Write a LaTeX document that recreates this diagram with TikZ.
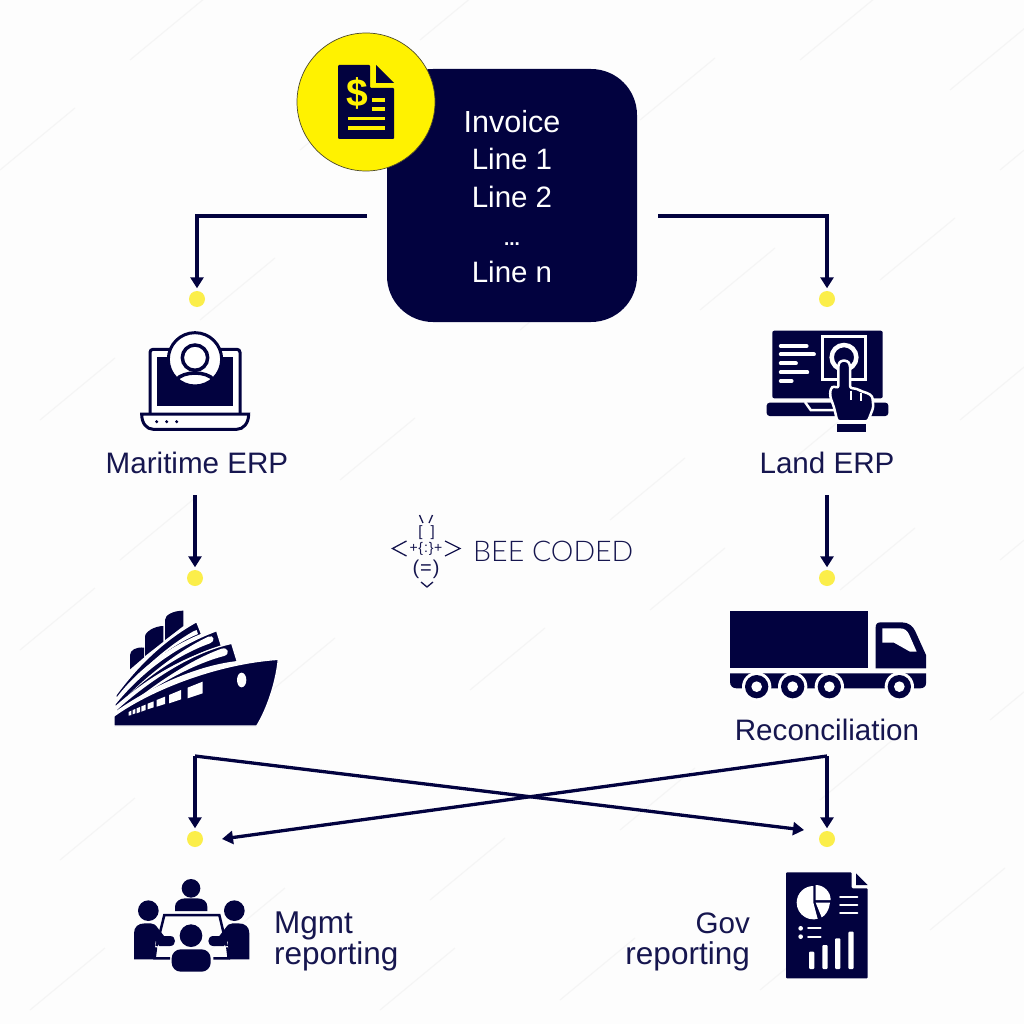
\documentclass[tikz,border=0pt]{standalone}
\usepackage{fontspec}
\setmainfont{Liberation Sans}
\newfontfamily\lightf{Lato Light}
\usetikzlibrary{arrows.meta}
\definecolor{navy}{HTML}{02023F}
\definecolor{labelc}{HTML}{16164F}
\definecolor{sun}{HTML}{FFF200}
\definecolor{dotc}{HTML}{FBEE4A}
\definecolor{bg}{HTML}{FDFDFD}
\definecolor{streak}{HTML}{F5F5F5}
\tikzset{
  px/.style 2 args={shift={(#1,#2)},x=0.33333pt,y=-0.33333pt},
  conn/.style={draw=navy,line width=3.3pt,-{Triangle[length=11pt,width=13pt]},shorten >=2.5pt},
  dotn/.style={circle,fill=dotc,minimum size=16pt,inner sep=0pt},
  lbl/.style={text=labelc,font=\fontsize{29.6}{31}\selectfont,inner sep=0pt,anchor=base},
  lblb/.style={text=labelc,font=\fontsize{31.5}{33}\selectfont,inner sep=0pt,anchor=base},
  boxline/.style={text=white,font=\fontsize{29.5}{31}\selectfont,inner sep=0pt,anchor=base}
}
\begin{document}
\begin{tikzpicture}[x=1pt,y=-1pt]
\useasboundingbox (0,0) rectangle (1024,1024);
\fill[bg] (0,0) rectangle (1024,1024);
% faint background streaks
\foreach \a/\b in {0/170,130/60,300/150,420/40,640/120,800/60,950/90,40/420,200/320,520/330,700/310,880/280,1000/170,20/650,120/560,340/480,610/520,780/470,960/420,60/860,260/700,470/690,650/610,840/590,1000/560,30/1010,210/950,430/900,620/830,820/800,990/720,380/1010,560/1000,760/990,930/930}{
  \draw[streak,line width=1.2pt] (\a,\b) -- ++(75,-62);
}
% main box
\fill[navy,rounded corners=46pt] (387,69) rectangle (637,322);
\node[circle,fill=sun,draw=navy!70!sun,line width=.7pt,minimum size=138pt,inner sep=0pt] (badge) at (366,102) {};
% invoice icon
\fill[navy,rounded corners=1pt] (338,65) -- (370,65) -- (370,88) -- (394,88) -- (394,139) -- (338,139) -- cycle;
\fill[navy] (376,65) -- (394,83) -- (376,83) -- cycle;
\node[text=sun,font=\fontsize{39}{39}\selectfont\bfseries,inner sep=0pt] (dollar) at (357,93) {\$};
\foreach \yy in {118.5,128}{\fill[sun] (348,\yy-1.8) rectangle (385,\yy+1.8);}
\foreach \yy in {100,109}{\fill[sun] (372,\yy-1.8) rectangle (385,\yy+1.8);}
% box text
\node[boxline,font=\fontsize{30.5}{31}\selectfont] (t1) at (512,133) {Invoice};
\node[boxline] (t2) at (512,170) {Line 1};
\node[boxline] (t3) at (512,208) {Line 2};
\node[boxline,font=\fontsize{19}{20}\selectfont\bfseries] (t4) at (512,245) {...};
\node[boxline] (t5) at (512,282) {Line n};
% dots
\node[dotn] (d1) at (197,299) {};
\node[dotn] (d2) at (827,299) {};
\node[dotn] (d3) at (195,578) {};
\node[dotn] (d4) at (827,578) {};
\node[dotn] (d5) at (195,839) {};
\node[dotn] (d6) at (827,839) {};
% connectors
\coordinate (s1) at (367,216);
\coordinate (s2) at (658,216);
\coordinate (s3) at (195,495);
\coordinate (s4) at (827,495);
\coordinate (s5) at (195,756);
\coordinate (s6) at (827,756);
\coordinate (e5) at (222,839);
\coordinate (e6) at (804,830);
\draw[conn] (s1) -| (d1);
\draw[conn] (s2) -| (d2);
\draw[conn] (s3) -- (d3);
\draw[conn] (s4) -- (d4);
\draw[conn] (s5) -- (d5);
\draw[conn] (s6) -- (d6);
\draw[conn,shorten >=0pt] (s5) -- (e6);
\draw[conn,shorten >=0pt] (s6) -- (e5);
% labels
\node[lbl] (l1) at (197,473) {Maritime ERP};
\node[lbl] (l2) at (827,473) {Land ERP};
\node[lbl] (l3) at (827,740) {Reconciliation};
\node[lblb,anchor=base west] (l4) at (274,933) {Mgmt};
\node[lblb,anchor=base west] (l5) at (274,964) {reporting};
\node[lbl,anchor=base east] (l6) at (750,933) {Gov};
\node[lblb,anchor=base east] (l7) at (750,964) {reporting};
% BEE CODED logo
\node[text=labelc,font=\lightf\fontsize{28.5}{30}\selectfont,inner sep=0pt,anchor=base west] (bee) at (473,561) {BEE CODED};
\begin{scope}[labelc,line width=1.3pt]
\draw (419.5,515) -- (423,523); \draw (432.5,515) -- (429,523);
\draw (406.5,541) -- (392.5,548.5) -- (406.5,556);
\draw (445,541) -- (460,548.5) -- (445,556);
\draw (421,582) -- (427,587) -- (433,582);
\end{scope}
\node[text=labelc,font=\fontsize{15}{15}\selectfont,inner sep=0pt] (b1) at (426.5,533) {[\hspace{8pt}]};
\node[text=labelc,font=\fontsize{14}{14}\selectfont,inner sep=0pt] (b2) at (426,549) {+\kern.5pt\{\kern1pt:\kern1pt\}\kern.5pt+};
\node[text=labelc,font=\fontsize{20}{20}\selectfont,inner sep=0pt] (b3) at (426,569) {(\kern1pt=\kern1pt)};
% left laptop
\begin{scope}[px={90}{320}]
\draw[navy,line width=3pt,fill=white,rounded corners=3pt] (180,285) -- (180,88) -- (450,88) -- (450,285);
\fill[navy] (202,110) rectangle (430,258);
\draw[navy,line width=3pt,fill=white] (155,282) -- (476,282) .. controls (476,310) and (460,328) .. (440,328) -- (190,328) .. controls (170,328) and (155,310) .. (155,282) -- cycle;
\foreach \q in {200,230,260}{\fill[navy] (\q,305) circle (5);}
\draw[navy,line width=3pt,fill=white] (315,118) circle (80);
\draw[navy,line width=3.5pt] (315,113) circle (38);
\draw[navy,line width=3.5pt] (258,180) .. controls (280,152) and (350,152) .. (372,180);
\end{scope}
% right laptop
\begin{scope}[px={740}{320}]
\fill[navy,rounded corners=2pt] (97,32) rectangle (428,235);
\foreach \w/\yy in {200/78,222/103,168/130,202/157,155/183}{\draw[white,line width=3.8pt,line cap=round] (122,\yy) -- (\w,\yy);}
\draw[white,line width=3pt] (247,49) rectangle (376,178);
\draw[white,line width=4.5pt] (312,112) circle (37);
\fill[navy,rounded corners=3pt] (80,248) -- (445,248) -- (445,288) -- (80,288) -- cycle;
\draw[white,line width=2.5pt] (195,246) -- (212,270) -- (290,270);
\draw[white,line width=2.5pt,fill=navy,line join=round,rounded corners=2.5pt] (295,205) -- (295,133) -- (302,122) -- (322,122) -- (330,133) -- (330,205) -- (345,205) -- (358,210) -- (366,215) -- (380,218) -- (397,228) -- (400,262) -- (384,304) -- (292,304) -- (282,262) -- (270,228) -- (272,205) -- (282,198) -- cycle;
\draw[white,line width=2pt] (333,212) -- (333,240);
\draw[white,line width=2pt] (363,218) -- (363,242);
\fill[navy] (290,312) rectangle (378,335);
\end{scope}
% ship
\begin{scope}[px={100}{600}]
\fill[navy] (90,208) -- (90,165) .. controls (90,150) and (110,140) .. (132,143) -- (132,172) -- cycle;
\fill[navy] (135,168) -- (135,110) .. controls (135,95) and (165,78) .. (190,78) -- (190,125) -- cycle;
\fill[navy] (195,120) -- (195,60) .. controls (195,45) and (220,32) .. (250,32) -- (250,78) -- cycle;
\filldraw[navy,draw=white,line width=1.3pt] (48,285) .. controls (110,200) and (190,120) .. (290,65) -- (305,103) .. controls (200,145) and (110,215) .. (48,298) -- cycle;
\fill[white] (75,268) .. controls (130,205) and (200,140) .. (280,94) -- (290,90) -- (294,102) .. controls (210,137) and (130,205) .. (75,268) -- cycle;
\filldraw[navy,draw=white,line width=1.3pt] (45,312) .. controls (120,220) and (220,140) .. (350,92) -- (365,140) .. controls (240,175) and (130,245) .. (45,322) -- cycle;
\fill[white,line join=round] (85,285) .. controls (150,220) and (240,150) .. (325,110) .. controls (342,103) and (347,124) .. (330,130) .. controls (240,162) and (150,225) .. (85,285) -- cycle;
\filldraw[navy,draw=white,line width=1.3pt] (42,335) .. controls (130,255) and (260,160) .. (395,130) -- (412,185) .. controls (280,200) and (140,270) .. (42,340) -- cycle;
\fill[white] (100,305) .. controls (170,250) and (270,180) .. (365,146) .. controls (384,140) and (392,162) .. (372,168) .. controls (280,192) and (180,250) .. (100,305) -- cycle;
\filldraw[navy,draw=white,line width=1.3pt] (42,348) .. controls (150,270) and (350,190) .. (535,178) .. controls (528,250) and (500,330) .. (470,378) -- (42,378) -- cycle;
\fill[white] (263,263) -- (308,245) -- (308,280) -- (263,295) -- cycle;
\fill[white] (207,285) -- (243,270) -- (243,298) -- (207,310) -- cycle;
\fill[white] (170,300) -- (195,290) -- (195,312) -- (170,320) -- cycle;
\fill[white] (143,311) -- (161,304) -- (161,322) -- (143,328) -- cycle;
\fill[white] (124,319) -- (137,314) -- (137,330) -- (124,335) -- cycle;
\fill[white] (110,325) -- (120,321) -- (120,336) -- (110,340) -- cycle;
\fill[white] (98,330) -- (106,327) -- (106,340) -- (98,343) -- cycle;
\fill[white] (86,336) -- (94,332) -- (94,345) -- (86,347) -- cycle;
\fill[white] (425,240) ellipse (14 and 22);
\end{scope}
% truck
\begin{scope}[px={720}{600}]
\fill[navy] (30,33) rectangle (445,205);
\fill[navy] (467,205) -- (467,82) .. controls (467,72) and (472,67) .. (482,67) -- (545,67) .. controls (565,67) and (578,78) .. (585,92) -- (618,165) -- (618,205) -- cycle;
\fill[white] (487,85) -- (540,85) .. controls (555,85) and (562,92) .. (568,105) -- (590,155) -- (570,155) -- (522,128) -- (487,128) -- cycle;
\fill[navy] (30,220) -- (618,220) -- (618,250) .. controls (618,260) and (610,265) .. (600,265) -- (50,265) .. controls (38,265) and (30,258) .. (30,245) -- cycle;
\foreach \q in {110,218,328,538}{
  \fill[white] (\q,260) circle (44);
  \fill[navy] (\q,260) circle (35);
  \fill[white] (\q,260) circle (16);
}
\end{scope}
% meeting
\begin{scope}[px={120}{870}]
\draw[navy,line width=2.5pt] (110,228) -- (133,135) -- (298,135) -- (320,228);
\draw[navy,line width=2.5pt] (108,232) -- (104,265) -- (150,265);
\draw[navy,line width=2.5pt] (322,232) -- (326,265) -- (280,265);
\fill[navy] (213,55) circle (28);
\fill[navy] (165,123) -- (165,110) .. controls (165,95) and (180,85) .. (195,85) -- (232,85) .. controls (250,85) and (262,95) .. (262,110) -- (262,123) -- cycle;
\fill[navy] (85,122) circle (31);
\fill[navy] (343,122) circle (31);
\fill[navy] (42,268) -- (42,190) .. controls (42,170) and (55,160) .. (75,160) -- (92,160) .. controls (102,160) and (107,165) .. (114,175) -- (132,198) -- (150,198) .. controls (170,198) and (170,228) .. (150,228) -- (118,228) -- (107,212) -- (102,268) -- cycle;
\fill[navy] (388,268) -- (388,190) .. controls (388,170) and (375,160) .. (355,160) -- (338,160) .. controls (328,160) and (323,165) .. (316,175) -- (298,198) -- (280,198) .. controls (260,198) and (260,228) .. (280,228) -- (312,228) -- (323,212) -- (328,268) -- cycle;
\fill[navy] (213,197) circle (34);
\fill[navy,rounded corners=9pt] (155,305) -- (155,238) -- (272,238) -- (272,305) -- cycle;
\end{scope}
% report
\begin{scope}[px={770}{860}]
\fill[navy,rounded corners=1pt] (48,37) -- (245,37) -- (245,85) -- (293,85) -- (293,355) -- (48,355) -- cycle;
\fill[navy] (258,40) -- (293,75) -- (258,75) -- cycle;
\fill[white] (130,128) -- (130,78) arc[start angle=-90,end angle=-285,radius=50] -- cycle;
\fill[white] (137,120) -- (137,75) arc[start angle=-90,end angle=0,radius=45] -- cycle;
\fill[white] (137,128) -- (180,128) .. controls (178,150) and (165,168) .. (155,172) -- cycle;
\foreach \yy in {112,135,158}{\draw[white,line width=2pt,line cap=round] (210,\yy) -- (262,\yy);}
\foreach \yy in {205,230}{\fill[white] (92,\yy) circle (7); \draw[white,line width=2pt,line cap=round] (114,\yy) -- (152,\yy);}
\foreach \xa/\ya in {117/275,157/255,195/235,235/215}{\fill[white,rounded corners=1pt] (\xa,\ya) rectangle (\xa+16,327);}
\end{scope}
\end{tikzpicture}
\end{document}
